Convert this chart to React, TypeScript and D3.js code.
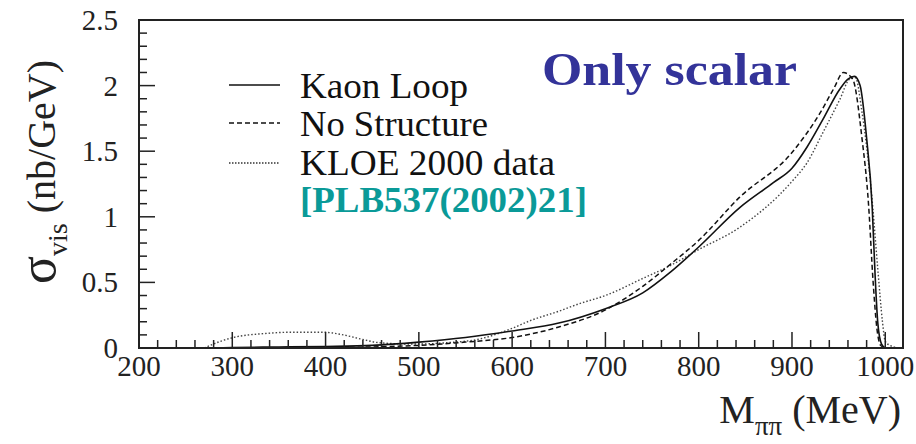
import React from "react";
import * as d3 from "d3";

// Visible cross section vs. pi-pi invariant mass (scalar contribution only)
const kaonLoopM = [280, 300, 350, 400, 450, 500, 550, 600, 650, 700, 740, 770, 800, 844, 880, 900, 916, 933, 951, 960, 967, 973, 980, 986, 989, 992, 996, 1000];
const kaonLoopS = [0, 0.003, 0.008, 0.012, 0.02, 0.045, 0.08, 0.13, 0.19, 0.3, 0.42, 0.58, 0.77, 1.07, 1.26, 1.37, 1.53, 1.74, 1.97, 2.05, 2.07, 2.0, 1.6, 1.07, 0.57, 0.19, 0.03, 0];

const noStructM = [280, 400, 500, 550, 600, 650, 700, 740, 770, 800, 844, 900, 930, 945, 955, 965, 975, 982, 987, 991, 995, 1000];
const noStructS = [0, 0.003, 0.02, 0.045, 0.08, 0.16, 0.29, 0.47, 0.64, 0.82, 1.15, 1.49, 1.79, 1.98, 2.1, 2.05, 1.6, 1.1, 0.5, 0.15, 0.02, 0];

const kloeM = [270, 287, 301, 334, 362, 398, 419, 437, 458, 494, 530, 566, 600, 620, 650, 673, 700, 740, 770, 800, 844, 900, 916, 933, 951, 962, 968, 975, 985, 992, 997, 1000, 1005, 1012];
const kloeS = [0, 0.05, 0.08, 0.11, 0.12, 0.12, 0.1, 0.07, 0.04, 0.03, 0.04, 0.07, 0.15, 0.21, 0.28, 0.34, 0.4, 0.53, 0.63, 0.75, 0.92, 1.27, 1.41, 1.64, 1.89, 2.05, 2.06, 1.8, 1.2, 0.6, 0.2, 0.05, 0.02, 0.005];

const xTicks = [200, 300, 400, 500, 600, 700, 800, 900, 1000];
const yTicks = [0, 0.5, 1, 1.5, 2, 2.5];
const yTickLabels = ["0", "0.5", "1", "1.5", "2", "2.5"];

const legendLabels = ["Kaon Loop", "No Structure", "KLOE 2000 data"];
const reference = "[PLB537(2002)21]";
const title = "Only scalar";

const W = 916;
const H = 444;
const left = 139;
const right = 903;
const top = 20;
const bottom = 348;

const txt = { fontFamily: '"Liberation Serif", serif' };

export default function App() {
  const x = d3.scaleLinear().domain([200, 1019]).range([left, right]);
  const y = d3.scaleLinear().domain([0, 2.5]).range([bottom, top]);

  const mk = (ms: number[], ss: number[]) =>
    d3
      .line<number>()
      .x((_, i) => x(ms[i]))
      .y((_, i) => y(ss[i]))
      .curve(d3.curveMonotoneX)(ss) as string;

  const minorX = d3.range(200, 1020, 20);
  const minorY = d3.range(0, 2.5001, 0.1);

  const legendRows = [
    { label: legendLabels[0], dash: undefined, color: "#111", width: 1.6, ly: 85, ty: 98, len: 168 },
    { label: legendLabels[1], dash: "5,3", color: "#111", width: 1.4, ly: 123, ty: 136, len: 188 },
    { label: legendLabels[2], dash: "1.5,1.5", color: "#333", width: 1.4, ly: 163, ty: 175, len: 255 },
  ];

  return (
    <svg width={W} height={H} style={{ position: "absolute", left: 0, top: 0, background: "#fff" }}>
      <rect x={0} y={0} width={W} height={H} fill="#fff" />

      {/* curves */}
      <path d={mk(kloeM, kloeS)} fill="none" stroke="#444" strokeWidth={1.4} strokeDasharray="1.5,2" />
      <path d={mk(noStructM, noStructS)} fill="none" stroke="#111" strokeWidth={1.5} strokeDasharray="5,3" />
      <path d={mk(kaonLoopM, kaonLoopS)} fill="none" stroke="#111" strokeWidth={1.6} />

      {/* frame */}
      <rect x={left} y={top} width={right - left} height={bottom - top} fill="none" stroke="#222" strokeWidth={2} />

      {/* x ticks */}
      {minorX.map((v) => {
        const major = v % 100 === 0;
        return (
          <line key={"xt" + v} x1={x(v)} x2={x(v)} y1={bottom} y2={bottom - (major ? 16 : 8)} stroke="#222" strokeWidth={1.5} />
        );
      })}
      {xTicks.map((v) => (
        <text key={"xl" + v} style={txt} x={x(v)} y={376} fontSize={29} textAnchor="middle" fill="#222">
          {v}
        </text>
      ))}

      {/* y ticks */}
      {minorY.map((v, i) => {
        const major = i % 5 === 0;
        return (
          <line key={"yt" + i} x1={left} x2={left + (major ? 16 : 8)} y1={y(v)} y2={y(v)} stroke="#222" strokeWidth={1.5} />
        );
      })}
      {yTicks.map((v, i) => (
        <text key={"yl" + v} style={txt} x={118} y={y(v) + 10} fontSize={29} textAnchor="end" fill="#222">
          {yTickLabels[i]}
        </text>
      ))}

      {/* axis titles */}
      <text style={txt} x={901} y={423} fontSize={40} textAnchor="end" fill="#222">
        <tspan>M</tspan>
        <tspan fontSize={27} dy={12}>ππ</tspan>
        <tspan dy={-12}> (MeV)</tspan>
      </text>
      <text style={txt} transform="translate(55,284) rotate(-90)" fontSize={40} fill="#222">
        <tspan fontSize={52}>σ</tspan>
        <tspan fontSize={28} dy={12}>vis</tspan>
        <tspan dy={-12}> (nb/GeV)</tspan>
      </text>

      {/* legend */}
      {legendRows.map((r) => (
        <g key={r.label}>
          <line x1={229} x2={280} y1={r.ly} y2={r.ly} stroke={r.color} strokeWidth={r.width} strokeDasharray={r.dash} />
          <text style={txt} x={300} y={r.ty} fontSize={35} fill="#111" textLength={r.len} lengthAdjust="spacingAndGlyphs">
            {r.label}
          </text>
        </g>
      ))}
      <text style={txt} x={300} y={212} fontSize={36} fontWeight="bold" fill="#0a9a98" textLength={287} lengthAdjust="spacingAndGlyphs">
        {reference}
      </text>

      <text style={txt} x={542} y={85} fontSize={46} fontWeight="bold" fill="#333399" textLength={255} lengthAdjust="spacingAndGlyphs">
        {title}
      </text>
    </svg>
  );
}
